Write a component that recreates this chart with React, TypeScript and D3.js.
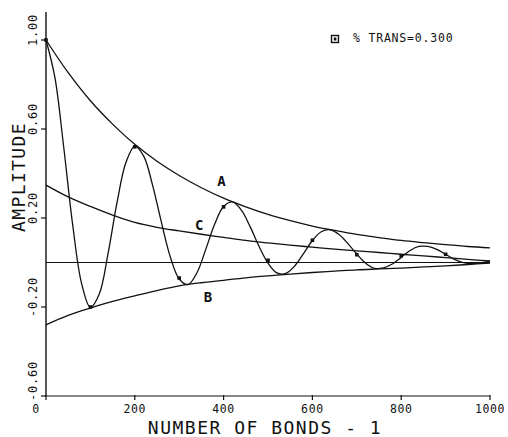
import React from "react";
import * as d3 from "d3";

// ---- data ----
const xTicks = [0, 200, 400, 600, 800, 1000];
const yTicks = [1.0, 0.6, 0.2, -0.2, -0.6];
const yTickLabels = ["1.00", "0.60", "0.20", "-0.20", "-0.60"];

const envX = [0, 50, 100, 150, 200, 250, 300, 350, 400, 450, 500, 550, 600, 650, 700, 750, 800, 850, 900, 950, 1000];
const curveA = [1.0, 0.853, 0.727, 0.622, 0.531, 0.455, 0.391, 0.336, 0.289, 0.25, 0.216, 0.188, 0.164, 0.144, 0.126, 0.112, 0.099, 0.089, 0.08, 0.072, 0.066];
const curveB = [-0.28, -0.238, -0.205, -0.175, -0.15, -0.126, -0.105, -0.091, -0.08, -0.069, -0.06, -0.052, -0.045, -0.039, -0.033, -0.029, -0.025, -0.02, -0.015, -0.009, -0.003];
const curveC = [0.348, 0.295, 0.252, 0.213, 0.18, 0.158, 0.142, 0.127, 0.113, 0.099, 0.088, 0.078, 0.069, 0.06, 0.052, 0.045, 0.037, 0.03, 0.022, 0.014, 0.007];

const waveX = [0, 20, 40, 60, 80, 100, 120, 140, 160, 180, 200, 220, 240, 260, 280, 300, 320, 340, 360, 380, 400, 420, 440, 460, 480, 500, 520, 540, 560, 580, 600, 620, 640, 660, 680, 700, 720, 740, 760, 780, 800, 820, 840, 860, 880, 900, 920, 940, 960, 980, 1000];
const waveY = [1.0, 0.832, 0.517, 0.171, -0.093, -0.202, -0.142, 0.043, 0.27, 0.449, 0.523, 0.478, 0.348, 0.18, 0.025, -0.074, -0.099, -0.046, 0.06, 0.173, 0.252, 0.272, 0.235, 0.16, 0.072, -0.003, -0.047, -0.049, -0.016, 0.04, 0.099, 0.138, 0.147, 0.126, 0.085, 0.038, -0.003, -0.026, -0.024, -0.007, 0.023, 0.054, 0.072, 0.072, 0.059, 0.037, 0.014, -0.001, -0.005, -0.001, 0.006];

const markerX = [0, 100, 200, 300, 400, 500, 600, 700, 800, 900];
const markerY = [1.0, -0.2, 0.52, -0.07, 0.25, 0.01, 0.1, 0.035, 0.03, 0.037];

const curveLabels = ["A", "C", "B"];
const curveLabelX = [395, 345, 365];
const curveLabelY = [0.365, 0.17, -0.155];

const legendText = "% TRANS=0.300";
const xTitle = "NUMBER OF BONDS - 1";
const yTitle = "AMPLITUDE";

const W = 508;
const H = 437;
const FONT = "'DejaVu Sans Mono', 'Liberation Mono', monospace";

export default function App() {
  const x = d3.scaleLinear().domain([0, 1000]).range([46, 490]);
  const y = d3.scaleLinear().domain([-0.6, 1.0]).range([396, 40]);

  const line = d3
    .line<[number, number]>()
    .x((d) => x(d[0]))
    .y((d) => y(d[1]))
    .curve(d3.curveCatmullRom.alpha(0.5));

  const env = (vals: number[]) => line(envX.map((v, i) => [v, vals[i]] as [number, number])) || "";
  const wave = line(waveX.map((v, i) => [v, waveY[i]] as [number, number])) || "";

  const stroke = "#111";

  return (
    <svg width={W} height={H} style={{ position: "absolute", left: 0, top: 0, background: "#fff" }}>
      <rect x={0} y={0} width={W} height={H} fill="#fff" />
      {/* axes */}
      <line x1={x(0)} x2={x(0)} y1={12} y2={y(-0.6)} stroke={stroke} strokeWidth={1.4} />
      <line x1={x(0)} x2={x(1000)} y1={y(-0.6)} y2={y(-0.6)} stroke={stroke} strokeWidth={1.2} />
      {yTicks.map((t, i) => (
        <line key={"yt" + i} x1={x(0) - 5} x2={x(0)} y1={y(t)} y2={y(t)} stroke={stroke} strokeWidth={1.2} />
      ))}
      {xTicks.map((t, i) => (
        <line key={"xt" + i} x1={x(t)} x2={x(t)} y1={y(-0.6) - 1} y2={y(-0.6) + 4} stroke={stroke} strokeWidth={1.2} />
      ))}
      {/* y tick labels */}
      {yTicks.map((t, i) => {
        const cy = Math.min(y(t) - 10, 381);
        return (
          <text
            key={"yl" + i}
            transform={`translate(37,${cy}) rotate(-90)`}
            textAnchor="middle"
            fontFamily={FONT}
            fontSize={12}
            letterSpacing={0.8}
            fill={stroke}
          >
            {yTickLabels[i]}
          </text>
        );
      })}
      {/* x tick labels */}
      {xTicks.map((t, i) => (
        <text
          key={"xl" + i}
          x={t === 0 ? x(t) - 10 : x(t)}
          y={413}
          textAnchor="middle"
          fontFamily={FONT}
          fontSize={11.5}
          letterSpacing={0.6}
          fill={stroke}
        >
          {String(t)}
        </text>
      ))}
      {/* titles */}
      <text x={265} y={434} textAnchor="middle" fontFamily={FONT} fontSize={18} letterSpacing={1.5} fill={stroke}>
        {xTitle}
      </text>
      <text transform="translate(25,177) rotate(-90)" textAnchor="middle" fontFamily={FONT} fontSize={18} letterSpacing={1.4} fill={stroke}>
        {yTitle}
      </text>
      {/* zero line */}
      <line x1={x(0)} x2={x(1000)} y1={y(0)} y2={y(0)} stroke={stroke} strokeWidth={1.1} />
      {/* envelopes */}
      <path d={env(curveA)} fill="none" stroke={stroke} strokeWidth={1.3} />
      <path d={env(curveB)} fill="none" stroke={stroke} strokeWidth={1.3} />
      <path d={env(curveC)} fill="none" stroke={stroke} strokeWidth={1.3} />
      {/* damped wave */}
      <path d={wave} fill="none" stroke={stroke} strokeWidth={1.3} />
      {markerX.map((m, i) => (
        <rect key={"mk" + i} x={x(m) - 1.8} y={y(markerY[i]) - 1.8} width={3.6} height={3.6} fill={stroke} />
      ))}
      {/* curve labels */}
      {curveLabels.map((l, i) => (
        <text
          key={"cl" + i}
          x={x(curveLabelX[i])}
          y={y(curveLabelY[i])}
          textAnchor="middle"
          dominantBaseline="central"
          fontFamily={FONT}
          fontSize={14}
          fontWeight="bold"
          fill={stroke}
        >
          {l}
        </text>
      ))}
      {/* legend */}
      <rect x={331.5} y={35.5} width={7} height={7} fill="none" stroke={stroke} strokeWidth={1.4} />
      <rect x={333.8} y={37.5} width={2.6} height={3} fill={stroke} />
      <text x={353} y={42} fontFamily={FONT} fontSize={11.5} letterSpacing={0.8} fill={stroke}>
        {legendText}
      </text>
    </svg>
  );
}
